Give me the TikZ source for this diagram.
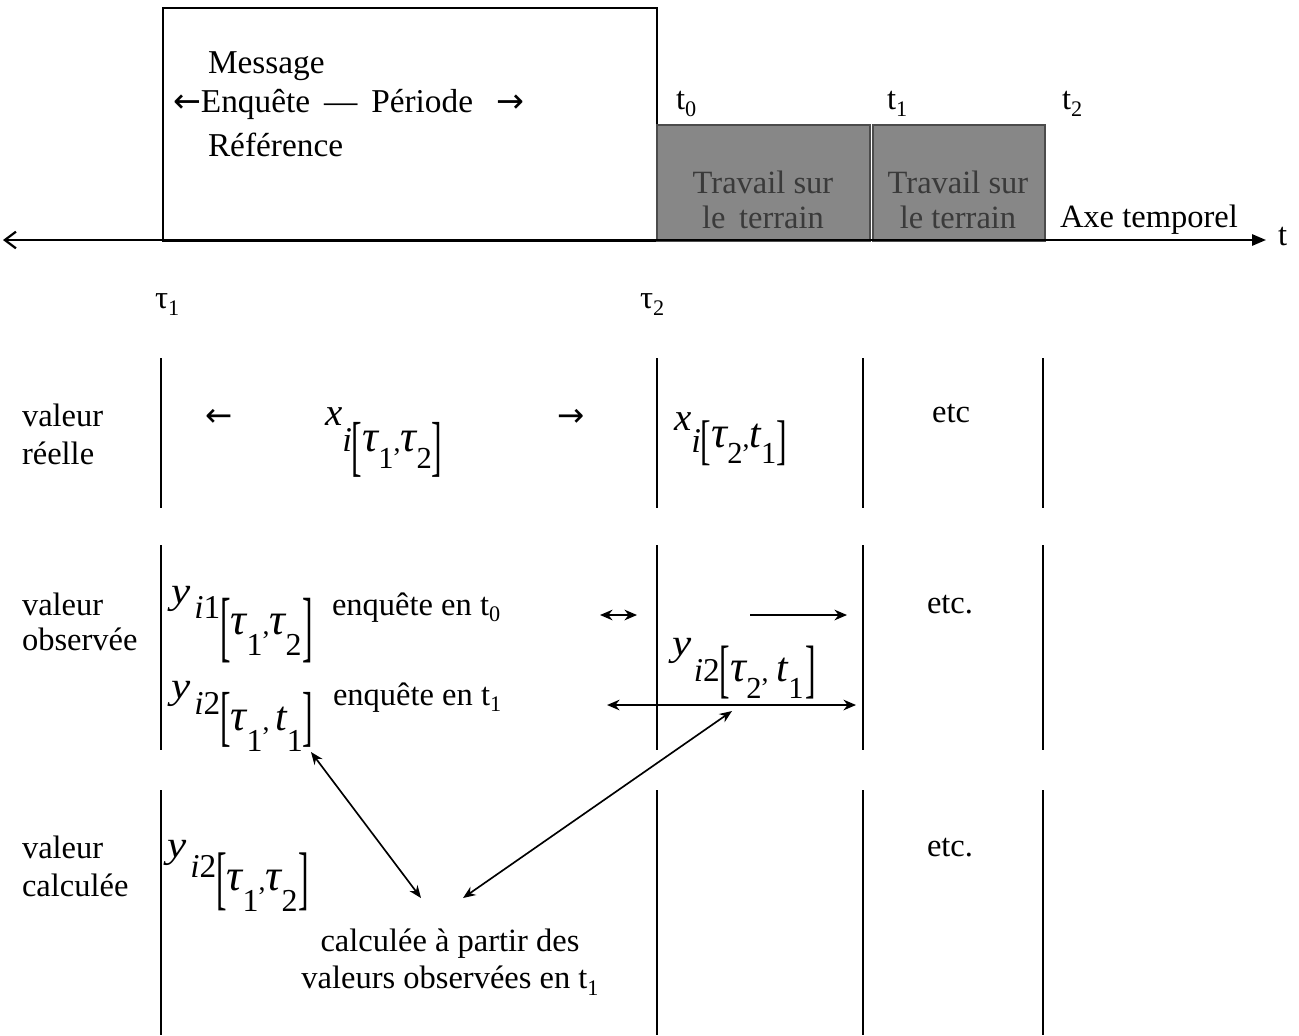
\documentclass[tikz,border=0pt]{standalone}
\usepackage{fontspec}
\setmainfont{Liberation Serif}
\newfontfamily\arrfont{DejaVu Sans}
\usepackage{graphicx}
\usetikzlibrary{arrows.meta}
\definecolor{fieldgray}{HTML}{878787}
\definecolor{fieldtext}{HTML}{3A3A3A}
\newcommand\arrL{{\arrfont ←}}
\newcommand\arrR{{\arrfont →}}
% digits below tau / t
\newcommand\dgs[1]{\raisebox{-6pt}{\fontsize{11}{11}\selectfont\upshape #1}}
\newcommand\dgl[1]{\raisebox{-7.5pt}{\fontsize{11.5}{11.5}\selectfont\upshape #1}}
\newcommand\mtau{{\fontsize{16}{16}\selectfont\itshape τ}}
\newcommand\mtt{{\fontsize{15}{15}\selectfont\itshape t}}
\newcommand\bi{{\fontsize{12.5}{12.5}\selectfont\itshape i}}
\newcommand\si[1]{{\fontsize{12}{12}\selectfont\itshape i\upshape #1}}
\newcommand\lx{{\fontsize{14}{14}\selectfont\itshape x}}
\newcommand\ly{\scalebox{1.15}[1]{\fontsize{13.5}{13.5}\selectfont\itshape y}}
% bracket: #1 height above group baseline, #2 depth below
\newcommand\lbk[2]{\raisebox{-#2}{\resizebox*{3.8pt}{\dimexpr#1+#2\relax}{\raisebox{\depth}{\fontsize{15}{15}\selectfont\upshape[}}}}
\newcommand\rbk[2]{\raisebox{-#2}{\resizebox*{3.8pt}{\dimexpr#1+#2\relax}{\raisebox{\depth}{\fontsize{15}{15}\selectfont\upshape]}}}}
% letter, i-drop, index, group-drop, top, bottom, content
\newcommand\mexp[7]{#1\raisebox{-#2}{#3\raisebox{-#4}{\lbk{#5}{#6}#7\rbk{#5}{#6}}}}
\newcommand\tsb[1]{\raisebox{-2.5pt}{\fontsize{8}{8}\selectfont #1}}
\tikzset{
  txt/.style={font=\fontsize{11.7}{13.7}\selectfont, inner sep=0pt, outer sep=0pt},
  mth/.style={inner sep=0pt, outer sep=0pt, anchor=base west},
  vline/.style={line width=0.6pt},
  axis/.style={line width=0.8pt},
  dbl/.style={line width=0.6pt, {Stealth[length=4.5pt,width=3.6pt]}-{Stealth[length=4.5pt,width=3.6pt]}},
  dblb/.style={line width=0.8pt, {Stealth[length=4.5pt,width=3.8pt]}-{Stealth[length=4.5pt,width=3.8pt]}},
  sgl/.style={line width=0.8pt, -{Stealth[length=4.5pt,width=3.8pt]}},
}
\begin{document}
\begin{tikzpicture}[x=0.36pt,y=-0.36pt]
\useasboundingbox (0,0) rectangle (1299,1035);
% boxes
\draw[line width=0.7pt] (163,8) rectangle (657,241);
\fill[fieldgray] (657,125) rectangle (870,241);
\fill[fieldgray] (873,125) rectangle (1045,241);
\draw[line width=0.5pt, black!70] (657,125) rectangle (870,241);
\draw[line width=0.5pt, black!70] (873,125) rectangle (1045,241);
% axis
\coordinate (tl) at (3,240);
\coordinate (tr) at (1266,240);
\draw[axis, {Straight Barb[length=4pt,width=6pt]}-{Triangle[length=5pt,width=4pt]}] (tl) -- (tr);
\node[txt, anchor=west] (t) at (1278,237) {t};
\node[txt, anchor=west] (axe) at (1060,220) {Axe temporel};
% message
\node[txt, anchor=west, font=\fontsize{12}{14}\selectfont] (msg) at (208,66) {Message};
\node[txt, anchor=west, font=\fontsize{12}{14}\selectfont] (enq) at (173,104) {\arrL Enquête \,—\, Période \;\,\arrR};
\node[txt, anchor=west, font=\fontsize{12}{14}\selectfont] (ref) at (208,145) {Référence};
% field work
\node[txt, align=center, text=fieldtext, font=\fontsize{11.7}{12.6}\selectfont] (tw1) at (763,200) {Travail sur\\le \,terrain};
\node[txt, align=center, text=fieldtext, font=\fontsize{11.7}{12.6}\selectfont] (tw2) at (958,200) {Travail sur\\le terrain};
\node[txt, anchor=west] (t0) at (676,104) {t\tsb{0}};
\node[txt, anchor=west] (t1) at (887,104) {t\tsb{1}};
\node[txt, anchor=west] (t2) at (1062,104) {t\tsb{2}};
\node[txt, anchor=west] (tau1) at (155,305) {τ\tsb{1}};
\node[txt, anchor=west] (tau2) at (640,305) {τ\tsb{2}};
% vertical lines
\foreach \xx in {161,657,863,1043}{
  \draw[vline] (\xx,358) -- (\xx,508);
  \draw[vline] (\xx,545) -- (\xx,750);
  \draw[vline] (\xx,790) -- (\xx,1035);
}
% row labels
\node[txt, align=left, anchor=west] (r1) at (22,434) {valeur\\réelle};
\node[txt, align=left, anchor=west, font=\fontsize{11.7}{12.6}\selectfont] (r2) at (22,622) {valeur\\observée};
\node[txt, align=left, anchor=west] (r3) at (22,866) {valeur\\calculée};
% row 1
\node[txt, anchor=west] (la) at (205,418) {\arrL};
\node[txt, anchor=west] (ra) at (557,418) {\arrR};
\node[mth] (x1) at (325,425) {\mexp{\lx}{9.7pt}{\bi}{0pt}{10.8pt}{9pt}{\mtau\dgs{1},\mtau\dgs{2}}};
\node[mth] (x2) at (674,430) {\mexp{\lx}{8pt}{\bi}{-1.8pt}{9.7pt}{6.5pt}{\mtau\dgs{2},\mtt\dgs{1}}};
\node[txt] (etc1) at (951,413) {etc};
% row 2
\node[mth] (y1) at (171,603) {\mexp{\ly}{5.5pt}{\hspace{1.5pt}\si{1}}{6pt}{13.3pt}{10pt}{\mtau\dgl{1},\mtau\dgl{2}\hspace{0.5pt}}};
\node[txt, anchor=base west] (e0) at (332,615) {enquête en t\tsb{0}};
\node[mth] (y2) at (171,698) {\mexp{\ly}{5.8pt}{\hspace{1.5pt}\si{2}}{5.8pt}{13.7pt}{6.1pt}{\mtau\dgl{1},\hspace{2pt}\mtt\dgl{1}}};
\node[txt, anchor=base west] (e1) at (333,705) {enquête en t\tsb{1}};
\node[mth] (y3) at (672,655) {\mexp{\ly}{9.7pt}{\hspace{1pt}\si{2}}{0pt}{13pt}{6.1pt}{\mtau\dgs{2},\hspace{3pt}\mtt\dgs{1}\hspace{0.5pt}}};
\node[txt] (etc2) at (950,605) {etc.};
\coordinate (s1) at (600,615); \coordinate (s2) at (637,615);
\draw[dblb] (s1) -- (s2);
\coordinate (m1) at (750,615); \coordinate (m2) at (847,615);
\draw[sgl] (m1) -- (m2);
\coordinate (l1) at (607,705); \coordinate (l2) at (856,705);
\draw[dblb] (l1) -- (l2);
% row 3
\node[mth] (y4) at (167,857) {\mexp{\ly}{7.5pt}{\hspace{1.5pt}\si{2}}{4.7pt}{13.7pt}{7.2pt}{\mtau\dgl{1},\mtau\dgl{2}\hspace{0.5pt}}};
\node[txt] (etc3) at (950,848) {etc.};
\node[txt, align=center, font=\fontsize{11.7}{13.3}\selectfont] (calc) at (450,962) {calculée à partir des\\valeurs observées en t\tsb{1}};
% diagonal arrows
\coordinate (a1) at (311,752); \coordinate (a2) at (421,898);
\coordinate (b1) at (732,711); \coordinate (b2) at (463,898);
\draw[dbl] (a1) -- (a2);
\draw[dbl] (b1) -- (b2);
\end{tikzpicture}
\end{document}
